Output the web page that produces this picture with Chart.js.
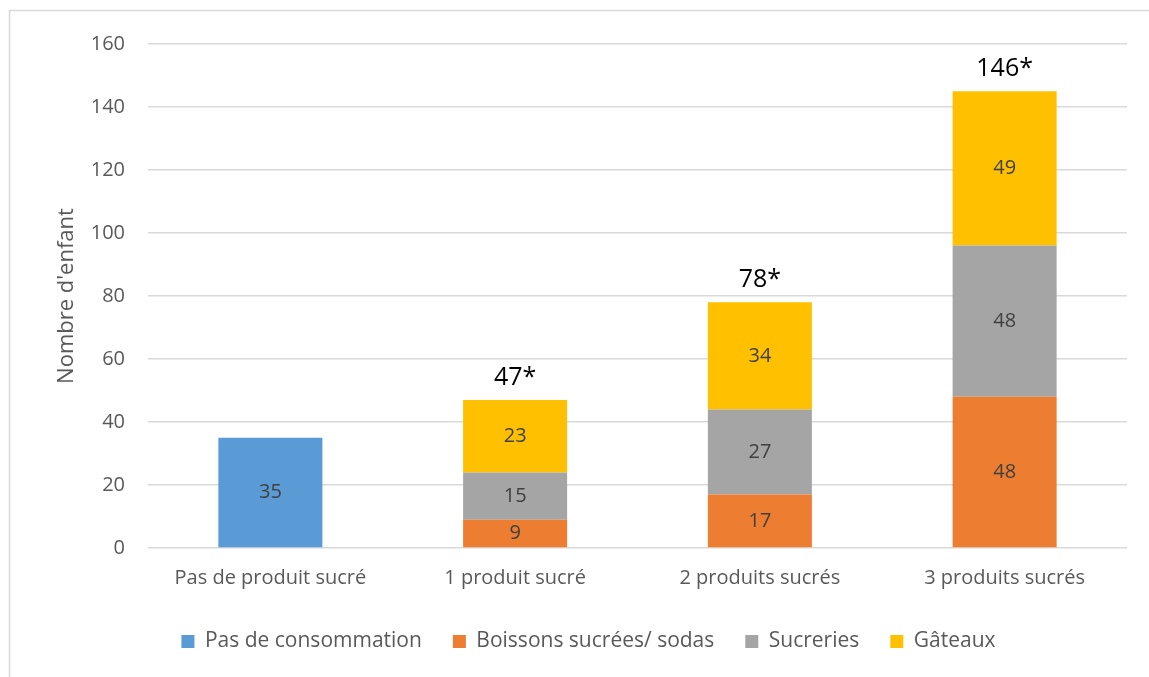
<!DOCTYPE html>
<html>
<head>
<meta charset="utf-8">
<script src="https://cdn.jsdelivr.net/npm/chart.js@4"></script>
<style>
  body { margin: 0; background: #fff; }
  #wrap { position: absolute; left: 0; top: 0; width: 1149px; height: 677px; }
</style>
</head>
<body>
<div id="wrap"><canvas id="chart"></canvas></div>
<script>
const categories = ['Pas de produit sucré', '1 produit sucré', '2 produits sucrés', '3 produits sucrés'];
const seriesNames = ['Pas de consommation', 'Boissons sucrées/ sodas', 'Sucreries', 'Gâteaux'];
const pasConso = [35, null, null, null];
const boissons = [null, 9, 17, 48];
const sucreries = [null, 15, 27, 48];
const gateaux = [null, 23, 34, 49];
const totalLabels = ['', '47*', '78*', '146*'];
const yTicks = [0, 20, 40, 60, 80, 100, 120, 140, 160];
const colors = ['#5B9BD5', '#ED7D31', '#A5A5A5', '#FFC000'];

const FONT = "'Open Sans', 'Noto Sans', sans-serif";

// draws the light frame, the values inside segments and the totals on top
const labelsPlugin = {
  id: 'labels',
  beforeDraw(chart) {
    const c = chart.ctx;
    c.save();
    c.strokeStyle = '#d9d9d9';
    c.lineWidth = 1.5;
    c.beginPath();
    c.moveTo(9.5, 677);
    c.lineTo(9.5, 10.5);
    c.lineTo(1149, 10.5);
    c.stroke();
    c.restore();
  },
  afterDatasetsDraw(chart) {
    const c = chart.ctx;
    c.save();
    c.textAlign = 'center';
    c.textBaseline = 'middle';
    c.font = '20px ' + FONT;
    c.fillStyle = '#404040';
    chart.data.datasets.forEach((ds, i) => {
      const meta = chart.getDatasetMeta(i);
      meta.data.forEach((bar, j) => {
        const v = ds.data[j];
        if (v == null) return;
        c.fillText(String(v), bar.x, (bar.y + bar.base) / 2);
      });
    });
    const last = chart.getDatasetMeta(chart.data.datasets.length - 1);
    c.font = '25px ' + FONT;
    c.fillStyle = '#000';
    c.textBaseline = 'bottom';
    totalLabels.forEach((t, j) => {
      if (!t) return;
      c.fillText(t, last.data[j].x, last.data[j].y - 10);
    });
    c.restore();
  }
};

new Chart(document.getElementById('chart'), {
  type: 'bar',
  data: {
    labels: categories,
    datasets: [pasConso, boissons, sucreries, gateaux].map((d, i) => ({
      label: seriesNames[i],
      data: d,
      backgroundColor: colors[i],
      barPercentage: 0.425,
      categoryPercentage: 1,
      skipNull: true
    }))
  },
  options: {
    responsive: true,
    maintainAspectRatio: false,
    animation: false,
    layout: { padding: { left: 50, top: 44, right: 22, bottom: 15 } },
    plugins: {
      legend: {
        position: 'bottom',
        labels: {
          boxWidth: 13,
          boxHeight: 13,
          padding: 31,
          color: '#595959',
          font: { family: FONT, size: 21 }
        }
      },
      tooltip: { enabled: false }
    },
    scales: {
      x: {
        stacked: true,
        grid: { display: false },
        border: { display: false },
        ticks: { color: '#595959', font: { family: FONT, size: 20 }, padding: 10 }
      },
      y: {
        stacked: true,
        min: 0,
        max: 160,
        afterBuildTicks(axis) { axis.ticks = yTicks.map(v => ({ value: v })); },
        afterFit(axis) { axis.width = 98; },
        grid: { color: '#d9d9d9', lineWidth: 1.5, drawTicks: false },
        border: { display: false },
        ticks: { color: '#595959', font: { family: FONT, size: 20 }, padding: 23 },
        title: {
          display: true,
          text: "Nombre d'enfant",
          color: '#595959',
          font: { family: FONT, size: 22 },
          padding: { top: 4, bottom: 4 }
        }
      }
    }
  },
  plugins: [labelsPlugin]
});
</script>
</body>
</html>
